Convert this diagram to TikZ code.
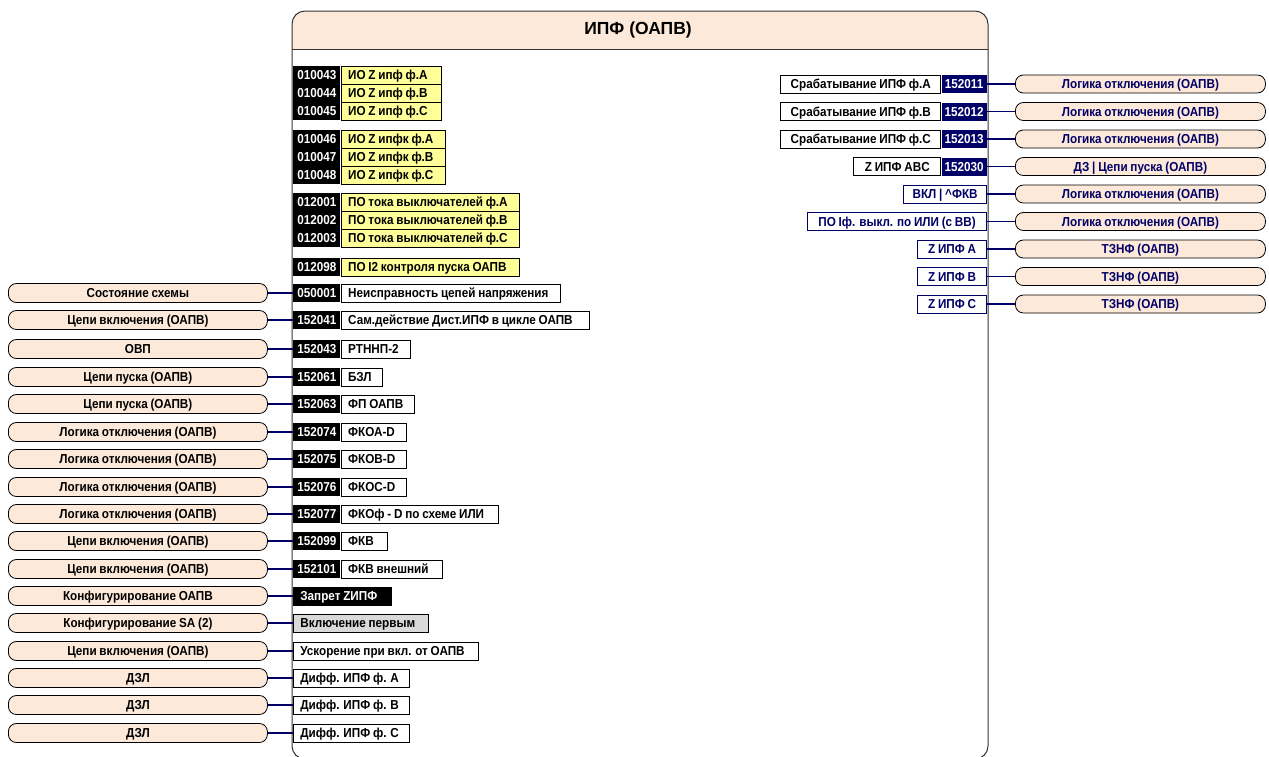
\documentclass[tikz,border=0pt]{standalone}
\usepackage{fontspec}
\setmainfont{Liberation Sans}
\newfontfamily\nar[FakeStretch=0.9,WordSpace=0.85]{Liberation Sans}
\definecolor{peach}{HTML}{FCE9DA}
\definecolor{yel}{HTML}{FFFF99}
\definecolor{navy}{HTML}{000066}
\definecolor{gry}{HTML}{D9D9D9}
\definecolor{frame}{HTML}{333333}
\newcommand\lb[2]{\makebox[#1][l]{#2}}
\tikzset{
  base/.style={font=\nar\bfseries\fontsize{13}{15}\selectfont, inner sep=0pt,
    minimum height=18pt, anchor=west, line width=0.8pt, text height=10.6pt, text depth=1.3pt},
  idk/.style={base, fill=black, text=white, minimum width=47pt},
  idn/.style={base, fill=navy, text=white, minimum width=45pt, anchor=east},
  lbl/.style={base, draw=black, fill=white, inner xsep=7pt},
  ylbl/.style={lbl, fill=yel},
  outlbl/.style={base, draw=black, fill=white, minimum width=#1, anchor=east},
  navlbl/.style={base, draw=navy, fill=white, text=navy, minimum width=#1, anchor=east},
  lpill/.style={base, draw=black, fill=peach, rounded corners=8pt, minimum width=259pt, minimum height=19pt},
  rpill/.style={base, draw=black, fill=peach, text=navy, rounded corners=8pt, minimum width=250pt},
  conn/.style={draw=navy, line width=1.1pt},
}
\begin{document}
\begin{tikzpicture}[x=1pt,y=-1pt]
\useasboundingbox (0,0) rectangle (1269,756);
\clip (0,0) rectangle (1269,756);
% main block
\fill[white, rounded corners=13pt] (292,11) rectangle (988,759);
\begin{scope}
  \clip (280,0) rectangle (1000,49);
  \fill[peach, rounded corners=15pt] (292,11) rectangle (988,100);
\end{scope}
\draw[frame, line width=0.9pt] (292,49) -- (988,49);
\draw[frame, line width=1pt, rounded corners=13pt] (292,11) rectangle (988,759);
\node[font=\bfseries\fontsize{17.5}{19}\selectfont] (title) at (638,30) {ИПФ (ОАПВ)};

% yellow input groups
\foreach \y/\id/\txt [count=\i] in {75/010043/ИО Z ипф ф.А, 93/010044/ИО Z ипф ф.В, 111/010045/ИО Z ипф ф.С}{
  \node[idk] (ga\i) at (293,\y) {\id};
  \node[ylbl] (gal\i) at (ga\i.east) {\lb{86pt}{\txt}};
}
\foreach \y/\id/\txt [count=\i] in {139/010046/ИО Z ипфк ф.А, 157/010047/ИО Z ипфк ф.В, 175/010048/ИО Z ипфк ф.С}{
  \node[idk] (gb\i) at (293,\y) {\id};
  \node[ylbl] (gbl\i) at (gb\i.east) {\lb{90pt}{\txt}};
}
\foreach \y/\id/\txt [count=\i] in {202/012001/ПО тока выключателей ф.А, 220/012002/ПО тока выключателей ф.В, 238/012003/ПО тока выключателей ф.С, 267/012098/ПО I2 контроля пуска ОАПВ}{
  \node[idk] (gc\i) at (293,\y) {\id};
  \node[ylbl] (gcl\i) at (gc\i.east) {\lb{164pt}{\txt}};
}

% left inputs with ids
\foreach \y/\id/\txt/\tw/\ptxt [count=\i] in {
  293/050001/Неисправность цепей напряжения/205/Состояние схемы,
  320/152041/Сам.действие Дист.ИПФ в цикле ОАПВ/234/Цепи включения (ОАПВ),
  349/152043/РТННП-2/55/ОВП,
  377/152061/БЗЛ/27/Цепи пуска (ОАПВ),
  404/152063/ФП ОАПВ/59/Цепи пуска (ОАПВ),
  432/152074/ФКОА-D/51/Логика отключения (ОАПВ),
  459/152075/ФКОВ-D/51/Логика отключения (ОАПВ),
  487/152076/ФКОС-D/51/Логика отключения (ОАПВ),
  514/152077/ФКОф - D по схеме ИЛИ/143/Логика отключения (ОАПВ),
  541/152099/ФКВ/32/Цепи включения (ОАПВ),
  569/152101/ФКВ внешний/87/Цепи включения (ОАПВ)}{
  \node[lpill] (lp\i) at (8,\y) {\ptxt};
  \node[idk] (li\i) at (293,\y) {\id};
  \node[lbl] (ll\i) at (li\i.east) {\lb{\tw pt}{\txt}};
  \draw[conn] (lp\i) -- (li\i);
}

% left inputs without ids
\node[lpill] (lq1) at (8,596) {Конфигурирование ОАПВ};
\node[lbl, fill=black, text=white] (lm1) at (293,596) {\lb{84pt}{Запрет ZИПФ}};
\node[lpill] (lq2) at (8,623) {Конфигурирование SA (2)};
\node[lbl, fill=gry] (lm2) at (293,623) {\lb{121pt}{Включение первым}};
\node[lpill] (lq3) at (8,651) {Цепи включения (ОАПВ)};
\node[lbl] (lm3) at (293,651) {\lb{171pt}{Ускорение при вкл. от ОАПВ}};
\node[lpill] (lq4) at (8,678) {ДЗЛ};
\node[lbl] (lm4) at (293,678) {\lb{102pt}{Дифф. ИПФ ф. A}};
\node[lpill] (lq5) at (8,705) {ДЗЛ};
\node[lbl] (lm5) at (293,705) {\lb{102pt}{Дифф. ИПФ ф. B}};
\node[lpill] (lq6) at (8,733) {ДЗЛ};
\node[lbl] (lm6) at (293,733) {\lb{102pt}{Дифф. ИПФ ф. C}};
\foreach \i in {1,...,6}{ \draw[conn] (lq\i) -- (lm\i); }

% right outputs with ids
\foreach \y/\id/\txt/\w/\ptxt [count=\i] in {
  84/152011/Срабатывание ИПФ ф.А/160/Логика отключения (ОАПВ),
  111.5/152012/Срабатывание ИПФ ф.В/160/Логика отключения (ОАПВ),
  139/152013/Срабатывание ИПФ ф.С/160/Логика отключения (ОАПВ),
  166.5/152030/Z ИПФ ABC/87/ДЗ | Цепи пуска (ОАПВ)}{
  \node[idn] (ri\i) at (987,\y) {\id};
  \node[outlbl=\w pt] (rl\i) at (ri\i.west) {\txt};
  \node[rpill] (rp\i) at (1015,\y) {\ptxt};
  \draw[conn] (ri\i) -- (rp\i);
}
% right outputs without ids
\foreach \y/\txt/\w/\ptxt [count=\i] in {
  194/ВКЛ | \^{}ФКВ/83/Логика отключения (ОАПВ),
  221.5/ПО Iф. выкл. по ИЛИ (с ВВ)/179/Логика отключения (ОАПВ),
  249/Z ИПФ A/69/ТЗНФ (ОАПВ),
  276.5/Z ИПФ B/69/ТЗНФ (ОАПВ),
  304/Z ИПФ C/69/ТЗНФ (ОАПВ)}{
  \node[navlbl=\w pt] (rn\i) at (987,\y) {\txt};
  \node[rpill] (rq\i) at (1015,\y) {\ptxt};
  \draw[conn] (rn\i) -- (rq\i);
}
\end{tikzpicture}
\end{document}
